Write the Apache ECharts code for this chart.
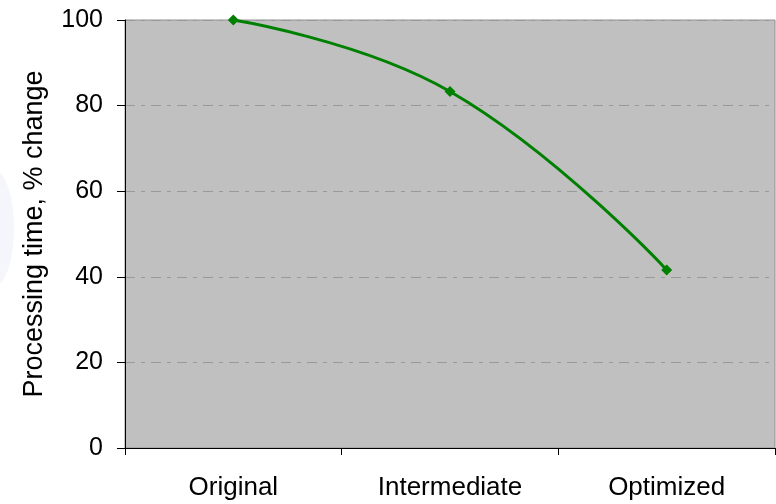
<!DOCTYPE html>
<html>
<head>
<meta charset="utf-8">
<script src="https://cdn.jsdelivr.net/npm/echarts@6/dist/echarts.min.js"></script>
<style>
  html, body { margin: 0; padding: 0; background: #ffffff; }
  #chart { width: 776px; height: 504px; }
</style>
</head>
<body>
<div id="chart"></div>
<script>
// Processing time relative to the original version
var stages = ['Original', 'Intermediate', 'Optimized'];
var timePct = [100, 83.3, 41.6];
var yTicks = { min: 0, max: 100, interval: 20 };

var chart = echarts.init(document.getElementById('chart'), null, { renderer: 'canvas' });

chart.setOption({
  animation: false,
  backgroundColor: '#ffffff',
  textStyle: { fontFamily: 'Liberation Sans, Arial, sans-serif' },
  graphic: [{
    type: 'ellipse',
    shape: { cx: -6, cy: 228, rx: 20, ry: 58 },
    style: { fill: 'rgba(210,216,242,0.22)' },
    silent: true,
    z: -10
  }],
  grid: {
    left: 125, top: 20, right: 1, bottom: 56,
    show: true,
    backgroundColor: '#c0c0c0',
    borderColor: '#909090',
    borderWidth: 1
  },
  xAxis: {
    type: 'category',
    data: stages,
    boundaryGap: true,
    axisLine: { show: true, lineStyle: { color: '#000000', width: 1 } },
    axisTick: { show: true, length: 7, lineStyle: { color: '#000000' } },
    axisLabel: { color: '#000000', fontSize: 26, margin: 27 },
    splitLine: { show: false }
  },
  yAxis: {
    type: 'value',
    min: yTicks.min,
    max: yTicks.max,
    interval: yTicks.interval,
    name: 'Processing time, % change',
    nameLocation: 'middle',
    nameGap: 77,
    nameRotate: 90,
    nameTextStyle: { color: '#000000', fontSize: 27 },
    axisLine: { show: true, lineStyle: { color: '#000000', width: 1 } },
    axisTick: { show: true, length: 8, lineStyle: { color: '#000000' } },
    axisLabel: { color: '#000000', fontSize: 25, margin: 22 },
    splitLine: {
      show: true,
      lineStyle: { color: '#999999', width: 1, type: [10, 6, 4, 6] }
    }
  },
  series: [{
    type: 'line',
    data: timePct,
    smooth: 0.45,
    symbol: 'diamond',
    symbolSize: 11,
    showSymbol: true,
    lineStyle: { color: '#008000', width: 3 },
    itemStyle: { color: '#008000' },
    clip: false
  }]
});
</script>
</body>
</html>
